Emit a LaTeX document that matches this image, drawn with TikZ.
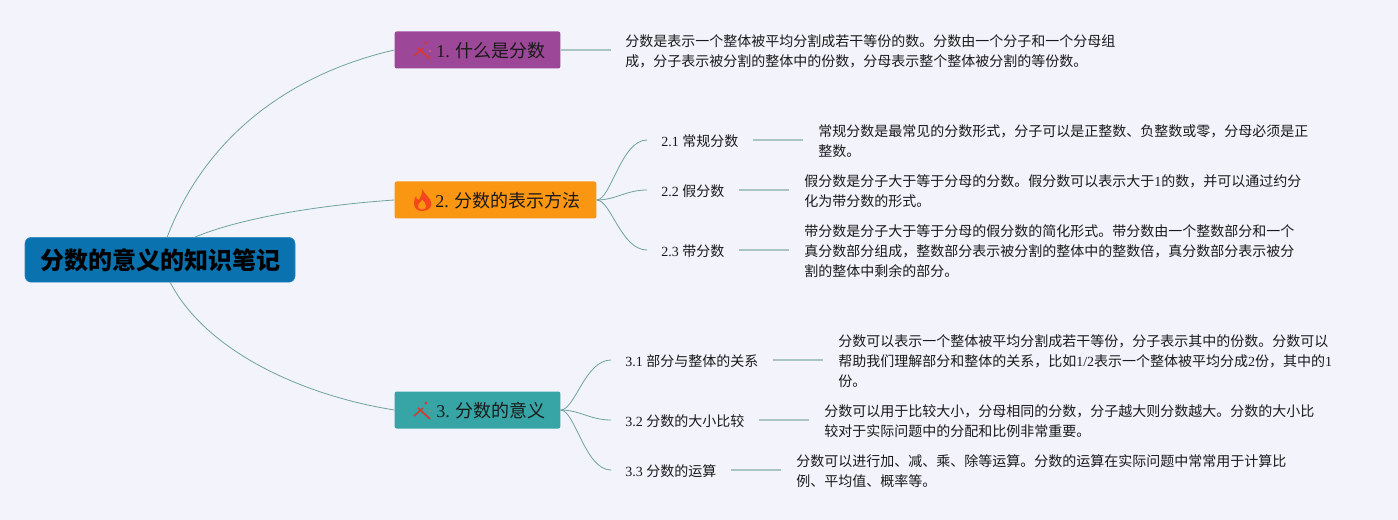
\documentclass[tikz,border=0pt]{standalone}
\usepackage{fontspec}
\setmainfont{Liberation Serif}
\newfontfamily\cjk{Noto Sans CJK SC}
\definecolor{bgc}{HTML}{F2F3FB}
\definecolor{linec}{HTML}{6FA3A0}
\definecolor{linel}{HTML}{A9C4C2}
\definecolor{rootc}{HTML}{0A72AE}
\definecolor{purplec}{HTML}{9C4797}
\definecolor{orangec}{HTML}{FB9613}
\definecolor{tealc}{HTML}{37A4A6}
\definecolor{txt}{HTML}{1A1A1A}
\definecolor{iconr}{HTML}{D63A2E}
\definecolor{flamec}{HTML}{F4481C}
\tikzset{
 rootbox/.style={fill=rootc,draw=rootc!85!white,rounded corners=4.5pt,minimum width=202.5pt,minimum height=33.5pt,inner sep=0pt,font=\fontsize{18}{22}\selectfont\cjk\bfseries,text=black},
 branchbox/.style={rounded corners=1.5pt,minimum height=27.75pt,inner sep=0pt,font=\fontsize{13.5}{16}\selectfont,text=txt},
 sublabel/.style={anchor=west,inner sep=0pt,font=\fontsize{10.5}{14}\selectfont,text=txt},
 bodytext/.style={anchor=west,inner sep=0pt,align=left,font=\fontsize{10.5}{15}\selectfont,text=txt},
 curve/.style={draw=linec,line width=0.6pt},
 stub/.style={draw=linel,line width=1.1pt},
 wand/.pic={
  \draw[iconr,line width=1.3pt] (-4,-3)--(8,8);
  \draw[iconr,line width=1.1pt] (-8,5)--(1,-3);
  \fill[iconr] (4,-8) circle (1.2pt);
  \fill[iconr!70!white] (8,0) circle (0.6pt);
 }
}
\begin{document}
\begin{tikzpicture}[x=0.75pt,y=-0.75pt]
\useasboundingbox (0,0) rectangle (1398,520);
\fill[bgc] (0,0) rectangle (1398,520);
% hubs
\coordinate (r1) at (167,237.5);
\coordinate (r2) at (194,237.5);
\coordinate (r3) at (170,282);
% nodes
\node[rootbox] (root) at (160,259.8) {\raisebox{-7.6pt}[0pt][0pt]{分数的意义的知识笔记}};
\node[branchbox,fill=purplec,minimum width=124.25pt] (b1) at (477.5,50) {\raisebox{-5.8pt}[0pt][0pt]{\hspace*{20.25pt}1. {\cjk 什么是分数}}};
\node[branchbox,fill=orangec,minimum width=151.25pt] (b2) at (495.5,200) {\raisebox{-5.8pt}[0pt][0pt]{\hspace*{18.75pt}2. {\cjk 分数的表示方法}}};
\node[branchbox,fill=tealc,minimum width=124.25pt] (b3) at (477.5,410) {\raisebox{-5.8pt}[0pt][0pt]{\hspace*{20.25pt}3. {\cjk 分数的意义}}};
\pic at (422,51) {wand};
\pic at (422,411) {wand};
\fill[flamec] (422,189) .. controls (424,194) and (431.5,198) .. (431.5,204) .. controls (431.5,209) and (426,211) .. (422,211) .. controls (417,211) and (414,208) .. (414,203) .. controls (414,200) and (415,197) .. (416,196) .. controls (416,198) and (417,200) .. (419,200) .. controls (421,197) and (422,194) .. (422,189) -- cycle;
\fill[orangec] (422,209.5) .. controls (419,209.5) and (418,207) .. (418,206) .. controls (418,203) and (421,203) .. (422,200) .. controls (424,202) and (426,203) .. (426,206) .. controls (426,208) and (425,209.5) .. (422,209.5) -- cycle;
% level 2 labels
\node[sublabel] (s21) at (661,141) {2.1 {\cjk 常规分数}};
\node[sublabel] (s22) at (661,191) {2.2 {\cjk 假分数}};
\node[sublabel] (s23) at (661,251) {2.3 {\cjk 带分数}};
\node[sublabel] (s31) at (625,361) {3.1 {\cjk 部分与整体的关系}};
\node[sublabel] (s32) at (625,421) {3.2 {\cjk 分数的大小比较}};
\node[sublabel] (s33) at (625,471) {3.3 {\cjk 分数的运算}};
% body texts
\node[bodytext] (t1) at (625,51.5) {\cjk 分数是表示一个整体被平均分割成若干等份的数。分数由一个分子和一个分母组\\\cjk 成，分子表示被分割的整体中的份数，分母表示整个整体被分割的等份数。};
\node[bodytext] (t21) at (818,141.5) {\cjk 常规分数是最常见的分数形式，分子可以是正整数、负整数或零，分母必须是正\\\cjk 整数。};
\node[bodytext] (t22) at (804,191.5) {\cjk 假分数是分子大于等于分母的分数。假分数可以表示大于{\rmfamily 1}的数，并可以通过约分\\\cjk 化为带分数的形式。};
\node[bodytext] (t23) at (804,251.5) {\cjk 带分数是分子大于等于分母的假分数的简化形式。带分数由一个整数部分和一个\\\cjk 真分数部分组成，整数部分表示被分割的整体中的整数倍，真分数部分表示被分\\\cjk 割的整体中剩余的部分。};
\node[bodytext] (t31) at (838,361.5) {\cjk 分数可以表示一个整体被平均分割成若干等份，分子表示其中的份数。分数可以\\\cjk 帮助我们理解部分和整体的关系，比如{\rmfamily 1/2}表示一个整体被平均分成{\rmfamily 2}份，其中的{\rmfamily 1}\\\cjk 份。};
\node[bodytext] (t32) at (824,421.5) {\cjk 分数可以用于比较大小，分母相同的分数，分子越大则分数越大。分数的大小比\\\cjk 较对于实际问题中的分配和比例非常重要。};
\node[bodytext] (t33) at (796,471.5) {\cjk 分数可以进行加、减、乘、除等运算。分数的运算在实际问题中常常用于计算比\\\cjk 例、平均值、概率等。};
% connectors root to branches
\draw[curve] (r1) .. controls (208,130) and (298,72) .. (b1.west);
\draw[curve] (r2) .. controls (240,218) and (320,205) .. (b2.west);
\draw[curve] (r3) .. controls (205,350) and (300,395) .. (b3.west);
% stubs
\coordinate (e1) at (611,50);
\draw[stub] (b1.east) -- (e1);
\coordinate (c21) at (647,140);\coordinate (c22) at (647,190);\coordinate (c23) at (647,250);
\draw[curve] (b2.east) .. controls (611,200) and (621,140) .. (c21);
\draw[curve] (b2.east) .. controls (616,200) and (626,190) .. (c22);
\draw[curve] (b2.east) .. controls (611,200) and (621,250) .. (c23);
\coordinate (c31) at (611,360);\coordinate (c32) at (611,420);\coordinate (c33) at (611,470);
\draw[curve] (b3.east) .. controls (575,410) and (585,360) .. (c31);
\draw[curve] (b3.east) .. controls (580,410) and (590,420) .. (c32);
\draw[curve] (b3.east) .. controls (575,410) and (585,470) .. (c33);
% label to text stubs
\coordinate (a21) at (753,140);\coordinate (z21) at (803,140);
\coordinate (a22) at (739,190);\coordinate (z22) at (789,190);
\coordinate (a23) at (739,250);\coordinate (z23) at (789,250);
\coordinate (a31) at (773,360);\coordinate (z31) at (823,360);
\coordinate (a32) at (759,420);\coordinate (z32) at (809,420);
\coordinate (a33) at (731,470);\coordinate (z33) at (781,470);
\draw[stub] (a21)--(z21);
\draw[stub] (a22)--(z22);
\draw[stub] (a23)--(z23);
\draw[stub] (a31)--(z31);
\draw[stub] (a32)--(z32);
\draw[stub] (a33)--(z33);
\end{tikzpicture}
\end{document}
